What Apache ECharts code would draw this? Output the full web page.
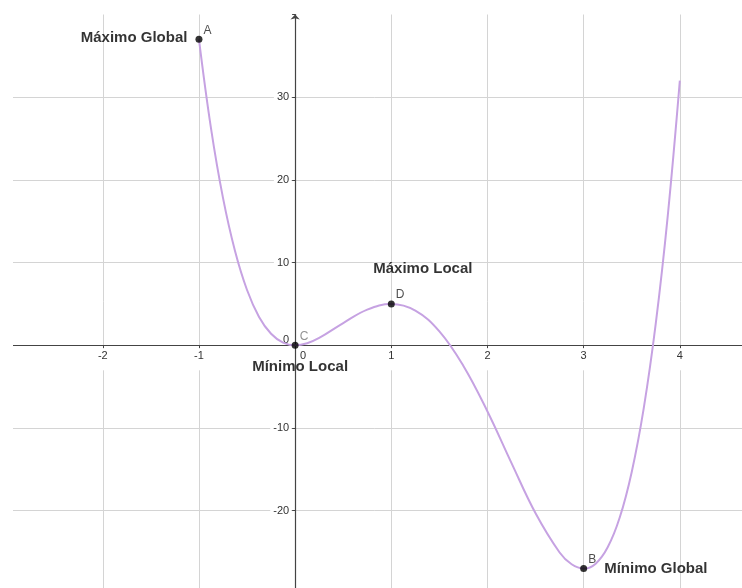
<!DOCTYPE html>
<html>
<head>
<meta charset="utf-8">
<script src="https://cdn.jsdelivr.net/npm/echarts@6/dist/echarts.min.js"></script>
<style>
html,body{margin:0;padding:0;background:#fff;}
#chart{width:742px;height:588px;}
</style>
</head>
<body>
<div id="chart"></div>
<script>
// Curve samples
const curveX = [-1, -0.875, -0.75, -0.625, -0.5, -0.375, -0.25, -0.125, 0, 0.125, 0.25, 0.5, 0.75, 1, 1.25, 1.5, 1.75, 2, 2.25, 2.5, 2.75, 2.875, 3, 3.125, 3.25, 3.375, 3.5, 3.625, 3.75, 3.875, 4];
const curveY = [37, 26.26, 17.82, 11.4, 6.69, 3.43, 1.39, 0.32, 0, 0.25, 0.89, 2.69, 4.32, 5, 4.2, 1.69, -2.49, -8, -14.24, -20.31, -25.05, -26.48, -27, -26.4, -24.43, -20.83, -15.31, -7.6, 2.64, 15.72, 32];

// Marked points
const pointNames = ['A', 'B', 'C', 'D'];
const pointX = [-1, 3, 0, 1];
const pointY = [37, -27, 0, 5];
const noteTexts = ['Máximo Global', 'Mínimo Global', 'Mínimo Local', 'Máximo Local'];

// Tick labels
const xTickLabels = [-2, -1, 0, 1, 2, 3, 4];
const yTickLabels = [-20, -10, 0, 10, 20, 30];

const FONT = "'Liberation Sans', Arial, sans-serif";
const AXIS_COLOR = '#444';
const GRID_COLOR = '#d4d4d4';

const noteLabelStyles = [
  { position: 'left', distance: 11, offset: [0, -1] },
  { position: 'right', distance: 20, offset: [0, 0] },
  { position: 'inside', offset: [5, 22] },
  { position: 'inside', offset: [31.5, -35] }
];

// Grid geometry: x from -3..5, y from -30..40
const GRID = { left: 6.6, right: -34, top: 14.5, bottom: -5.4 };
const W = 742, H = 588;
const gridW = W - GRID.left - GRID.right;
const gridH = H - GRID.top - GRID.bottom;
const X_MIN = -3, X_MAX = 5, Y_MIN = -30, Y_MAX = 40;
// shift axes so they sit on the zero lines
const xAxisOffset = -gridH * (0 - Y_MIN) / (Y_MAX - Y_MIN);
const yAxisOffset = -gridW * (0 - X_MIN) / (X_MAX - X_MIN);

const chart = echarts.init(document.getElementById('chart'), null, { renderer: 'canvas' });

const tickRich = {
  n: { fontSize: 11, fontFamily: FONT, color: '#333', backgroundColor: '#fff', padding: [2, 3, 9, 3] },
  z: { fontSize: 11, fontFamily: FONT, color: '#333', padding: [2, 0, 9, 16] }
};
const yTickRich = {
  n: { fontSize: 11, fontFamily: FONT, color: '#333', backgroundColor: '#fff', padding: [1, 2, 1, 3] },
  z: { fontSize: 11, fontFamily: FONT, color: '#333', padding: [0, 2, 11, 0] }
};

chart.setOption({
  animation: false,
  backgroundColor: '#fff',
  grid: { left: GRID.left, right: GRID.right, top: GRID.top, bottom: GRID.bottom, containLabel: false, outerBoundsMode: 'none' },
  xAxis: {
    type: 'value',
    position: 'bottom',
    offset: xAxisOffset,
    min: X_MIN, max: X_MAX, interval: 1,
    axisLine: { show: true, onZero: false, lineStyle: { color: AXIS_COLOR, width: 1.2 } },
    axisTick: { show: true, length: 3, lineStyle: { color: AXIS_COLOR, width: 1 } },
    axisLabel: {
      show: true, margin: 3, showMinLabel: true, showMaxLabel: true, hideOverlap: false,
      formatter: function (v) {
        if (v === 0) return '{z|0}';
        if (xTickLabels.indexOf(v) >= 0) return '{n|' + v + '}';
        return '';
      },
      rich: tickRich
    },
    splitLine: { show: true, showMinLine: false, showMaxLine: false, lineStyle: { color: GRID_COLOR, width: 1 } }
  },
  yAxis: {
    type: 'value',
    position: 'left',
    offset: yAxisOffset,
    min: Y_MIN, max: Y_MAX, interval: 10,
    axisLine: { show: true, onZero: false, symbol: ['none', 'arrow'], symbolSize: [7, 5], lineStyle: { color: AXIS_COLOR, width: 1.2 } },
    axisTick: { show: true, length: 3, lineStyle: { color: AXIS_COLOR, width: 1 } },
    axisLabel: {
      show: true, margin: 4, showMinLabel: true, showMaxLabel: true, hideOverlap: false,
      formatter: function (v) {
        if (v === 0) return '{z|0}';
        if (yTickLabels.indexOf(v) >= 0) return '{n|' + v + '}';
        return '';
      },
      rich: yTickRich
    },
    splitLine: { show: true, showMinLine: false, showMaxLine: false, lineStyle: { color: GRID_COLOR, width: 1 } }
  },
  graphic: [
    { type: 'rect', left: 0, top: 0, z: 100, shape: { width: 13, height: 588 }, style: { fill: '#fff' } }
  ],
  series: [
    {
      type: 'line',
      data: curveX.map((x, i) => [x, curveY[i]]),
      smooth: 0.4,
      symbol: 'none',
      lineStyle: { color: '#c6a2e2', width: 2 },
      z: 3
    },
    {
      type: 'scatter',
      data: pointNames.map((n, i) => ({
        name: n,
        value: [pointX[i], pointY[i]],
        label: { color: n === 'C' ? '#777' : '#222' }
      })),
      symbolSize: 7,
      itemStyle: { color: '#000' },
      label: {
        show: true, formatter: '{b}', position: 'right', distance: 1, offset: [0, -9],
        fontSize: 12, fontFamily: FONT
      },
      z: 5
    },
    {
      type: 'scatter',
      data: noteTexts.map((t, i) => ({
        name: t,
        value: [pointX[i], pointY[i]],
        label: noteLabelStyles[i]
      })),
      symbolSize: 1,
      itemStyle: { color: 'rgba(0,0,0,0)' },
      label: {
        show: true, formatter: '{b}', fontSize: 15, fontWeight: 'bold', fontFamily: FONT, color: '#000'
      },
      z: 6
    }
  ]
});
</script>
</body>
</html>
